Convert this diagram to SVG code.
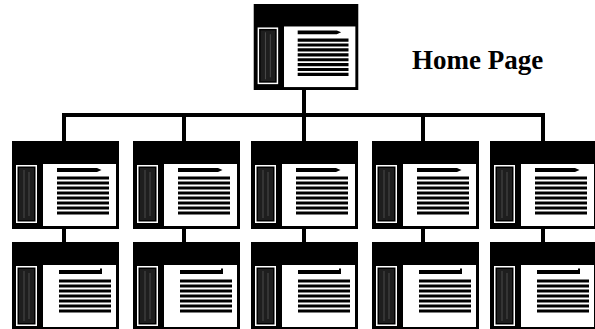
<svg xmlns="http://www.w3.org/2000/svg" xmlns:xlink="http://www.w3.org/1999/xlink" width="595" height="329" viewBox="0 0 595 329">
  <style>
    .frame { fill: #000; }
    .panel { fill: #fff; }
    .side-edge { fill: #fff; }
    .side { fill: #1e1e1e; }
    .grain { stroke: #6a6a6a; stroke-width: 1; opacity: 0.6; }
    .line { stroke: #000; stroke-width: 3.2; }
    .title { fill: #000; }
    .wire { stroke: #000; stroke-width: 4; fill: none; stroke-linecap: square; }
    .label { font-family: "Liberation Serif", "Times New Roman", serif; font-weight: bold; font-size: 27px; fill: #000; }
  </style>
  <defs>
    <!-- page thumbnail: black title bar, nav sidebar, text panel -->
    <symbol id="pageA" viewBox="0 0 107 88" width="107" height="88">
      <rect class="frame" x="0" y="0" width="107" height="88"/>
      <rect class="side-edge" x="4" y="24" width="21" height="58"/>
      <rect class="frame" x="5.5" y="25.5" width="18" height="55"/>
      <rect class="side" x="7" y="27" width="15" height="52"/>
      <line class="grain" x1="12" y1="29" x2="12" y2="77"/>
      <line class="grain" x1="17" y1="31" x2="17" y2="75"/>
      <rect class="panel" x="31" y="23" width="73" height="62"/>
      <polygon class="title" points="45,27 85,27 89.5,29 85,31 45,31"/>
      <g class="line">
        <line x1="45" y1="37" x2="97" y2="37"/>
        <line x1="45" y1="42" x2="97" y2="42"/>
        <line x1="45" y1="47" x2="97" y2="47"/>
        <line x1="45" y1="52" x2="97" y2="52"/>
        <line x1="45" y1="57" x2="97" y2="57"/>
        <line x1="45" y1="62" x2="97" y2="62"/>
        <line x1="45" y1="67" x2="97" y2="67"/>
        <line x1="45" y1="72" x2="97" y2="72"/>
      </g>
    </symbol>
    <symbol id="pageB" viewBox="0 0 107 88" width="107" height="88">
      <rect class="frame" x="0" y="0" width="107" height="88"/>
      <rect class="side-edge" x="4" y="24" width="21" height="60"/>
      <rect class="frame" x="5.5" y="25.5" width="18" height="57"/>
      <rect class="side" x="7" y="27" width="15" height="54"/>
      <line class="grain" x1="12" y1="29" x2="12" y2="79"/>
      <line class="grain" x1="17" y1="31" x2="17" y2="77"/>
      <rect class="panel" x="31" y="23" width="73" height="62"/>
      <polygon class="title" points="47,28 88,28 88,26.5 90,26.5 90,32 47,32"/>
      <g class="line">
        <line x1="47" y1="39" x2="99" y2="39"/>
        <line x1="47" y1="44" x2="99" y2="44"/>
        <line x1="47" y1="49" x2="99" y2="49"/>
        <line x1="47" y1="54" x2="99" y2="54"/>
        <line x1="47" y1="59" x2="99" y2="59"/>
        <line x1="47" y1="64" x2="99" y2="64"/>
        <line x1="47" y1="69" x2="99" y2="69"/>
      </g>
    </symbol>
  </defs>

  <rect x="0" y="0" width="595" height="329" fill="#fff"/>

  <!-- tree connectors -->
  <g id="connectors">
    <line class="wire" x1="304" y1="90" x2="304" y2="115"/>
    <line class="wire" x1="64" y1="115" x2="543" y2="115"/>
    <line class="wire" x1="64" y1="115" x2="64" y2="141"/>
    <line class="wire" x1="184" y1="115" x2="184" y2="141"/>
    <line class="wire" x1="304" y1="115" x2="304" y2="141"/>
    <line class="wire" x1="423" y1="115" x2="423" y2="141"/>
    <line class="wire" x1="543" y1="115" x2="543" y2="141"/>
    <line class="wire" x1="64" y1="229" x2="64" y2="242"/>
    <line class="wire" x1="184" y1="229" x2="184" y2="242"/>
    <line class="wire" x1="304" y1="229" x2="304" y2="242"/>
    <line class="wire" x1="423" y1="229" x2="423" y2="242"/>
    <line class="wire" x1="543" y1="229" x2="543" y2="242"/>
  </g>

  <!-- root page -->
  <g id="home">
    <use xlink:href="#pageA" x="252" y="4" width="108" height="86"/>
    <text class="label" x="412" y="69">Home Page</text>
  </g>

  <!-- second level pages -->
  <g id="page-1-1"><use xlink:href="#pageA" x="12" y="141"/></g>
  <g id="page-1-2"><use xlink:href="#pageA" x="133" y="141"/></g>
  <g id="page-1-3"><use xlink:href="#pageA" x="251" y="141"/></g>
  <g id="page-1-4"><use xlink:href="#pageA" x="372" y="141"/></g>
  <g id="page-1-5"><use xlink:href="#pageA" x="490" y="141"/></g>

  <!-- third level pages -->
  <g id="page-2-1"><use xlink:href="#pageB" x="12" y="242"/></g>
  <g id="page-2-2"><use xlink:href="#pageB" x="133" y="242"/></g>
  <g id="page-2-3"><use xlink:href="#pageB" x="251" y="242"/></g>
  <g id="page-2-4"><use xlink:href="#pageB" x="372" y="242"/></g>
  <g id="page-2-5"><use xlink:href="#pageB" x="490" y="242"/></g>
</svg>
